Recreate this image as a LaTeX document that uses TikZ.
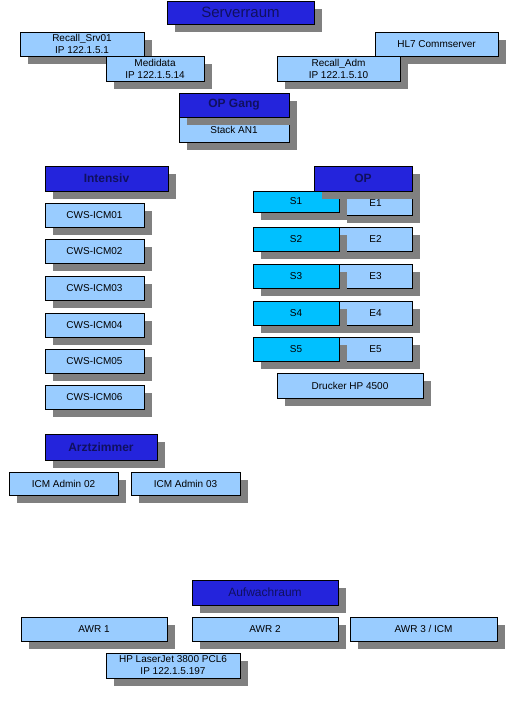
\documentclass[tikz,border=0pt]{standalone}
\usepackage{fontspec}
\setmainfont{Liberation Sans}
\usetikzlibrary{shadows}
\definecolor{roomblue}{RGB}{36,36,220}
\definecolor{roomtext}{RGB}{16,16,96}
\definecolor{pcblue}{RGB}{153,204,255}
\definecolor{salcyan}{RGB}{0,192,255}
\definecolor{shadowgray}{RGB}{128,128,128}
\tikzset{
  dev/.style={draw=black,line width=0.9pt,fill=pcblue,inner sep=0pt,align=center,
    font=\fontsize{10}{12}\selectfont,
    drop shadow={shadow xshift=7.5pt,shadow yshift=-7.5pt,opacity=1,fill=shadowgray}},
  room/.style={dev,fill=roomblue,text=roomtext,font=\fontsize{12}{14}\selectfont\bfseries},
  saal/.style={dev,fill=salcyan},
  wh/.style 2 args={minimum width=#1pt,minimum height=#2pt}
}
\begin{document}
\begin{tikzpicture}[x=1pt,y=-1pt]
\useasboundingbox (0,0) rectangle (512,724);
% Serverraum
\node[room,font=\fontsize{15}{17}\selectfont,wh={147}{23}] (server) at (240.5,12.5) {Serverraum};
\node[dev,wh={124}{24}] (srv01) at (82,44) {Recall\_Srv01\\IP 122.1.5.1};
\node[dev,wh={98}{25}] (medidata) at (155,68.5) {Medidata\\IP 122.1.5.14};
\node[dev,wh={123}{24}] (hl7) at (436.5,44) {HL7 Commserver};
\node[dev,wh={123}{25}] (recalladm) at (338.5,68.5) {Recall\_Adm\\IP 122.1.5.10};
% OP Gang
\node[dev,wh={110}{25}] (stack) at (234,129.5) {Stack AN1};
\node[room,wh={110}{24}] (opgang) at (234,105) {OP Gang};
% Intensiv
\node[room,wh={123}{25}] (intensiv) at (106.5,178.5) {Intensiv};
\foreach \i/\y in {1/215.5,2/251.5,3/288,4/325,5/361,6/397.5}
  \node[dev,wh={99}{24}] (cws\i) at (94.5,\y) {CWS-ICM0\i};
% OP
\node[dev,wh={73}{24}] (e1) at (375.5,203) {E1};
\node[saal,wh={86}{21}] (s1) at (296,201.5) {S1};
\node[room,wh={98}{25}] (op) at (363,178.5) {OP};
\foreach \i/\y in {2/239.5,3/276,4/313,5/349}{
  \node[dev,wh={73}{24}] (e\i) at (375.5,\y) {E\i};
  \node[saal,wh={86}{24}] (s\i) at (296,\y) {S\i};
}
\node[dev,wh={146}{25}] (drucker) at (350,385.5) {Drucker HP 4500};
% Arztzimmer
\node[room,wh={112}{26}] (arzt) at (101,447) {Arztzimmer};
\node[dev,wh={109}{23}] (admin2) at (63.5,483.5) {ICM Admin 02};
\node[dev,wh={109}{23}] (admin3) at (185.5,483.5) {ICM Admin 03};
% Aufwachraum
\node[room,font=\fontsize{12}{14}\selectfont,wh={146}{25}] (awr) at (265,592.5) {Aufwachraum};
\node[dev,wh={146}{24}] (awr1) at (94,629) {AWR 1};
\node[dev,wh={146}{24}] (awr2) at (265,629) {AWR 2};
\node[dev,wh={147}{24}] (awr3) at (423.5,629) {AWR 3 / ICM};
\node[dev,wh={134}{25}] (laser) at (173,665.5) {HP LaserJet 3800 PCL6\\IP 122.1.5.197};
\end{tikzpicture}
\end{document}
